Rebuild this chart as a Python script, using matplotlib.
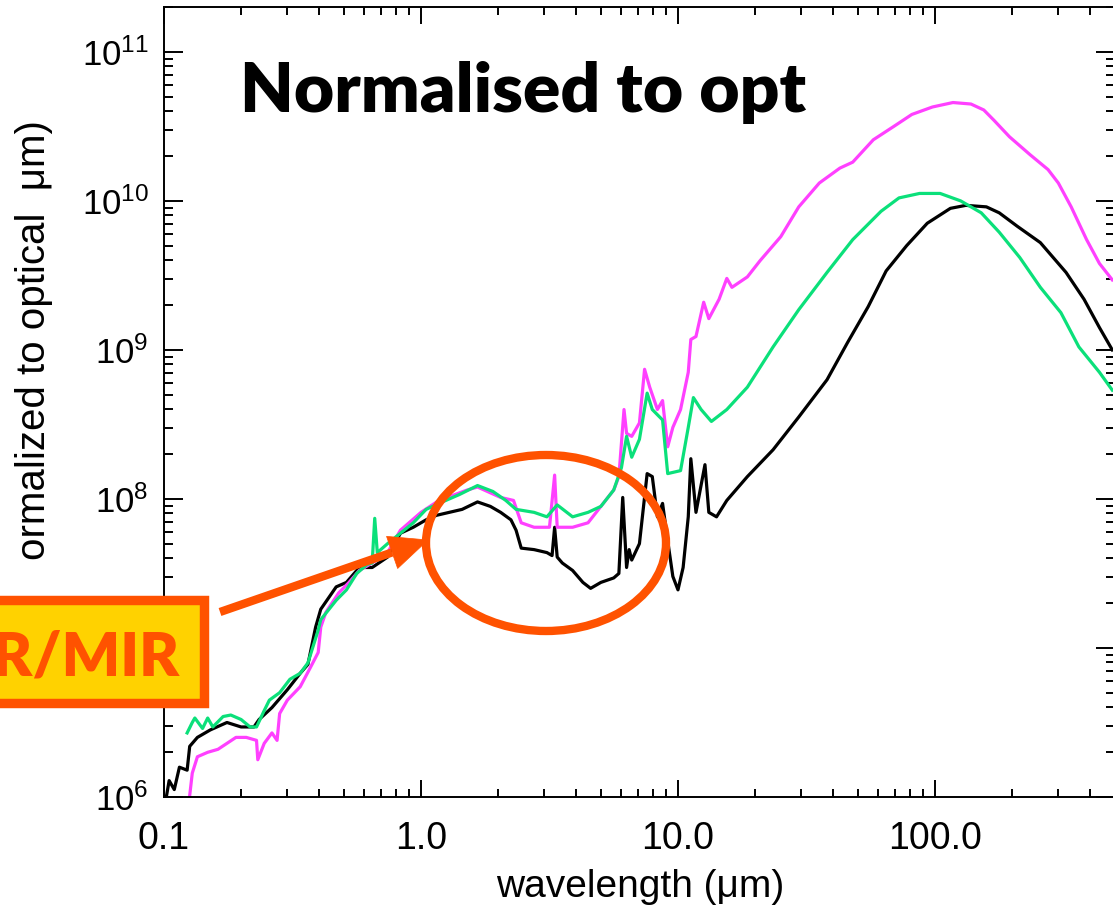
import numpy as np
import matplotlib
matplotlib.use("Agg")
import matplotlib.pyplot as plt
from matplotlib.patches import Ellipse, Rectangle, Polygon
from matplotlib.lines import Line2D
from matplotlib.ticker import (LogLocator, FixedLocator, FixedFormatter,
                               NullFormatter, LogFormatterMathtext)

plt.rcParams['font.family'] = ['Liberation Sans', 'DejaVu Sans']
plt.rcParams['mathtext.fontset'] = 'custom'
plt.rcParams['mathtext.rm'] = 'Liberation Sans'
plt.rcParams['mathtext.it'] = 'Liberation Sans:italic'
plt.rcParams['mathtext.bf'] = 'Liberation Sans:bold'

# ---- spectral energy distributions (log10 wavelength [um], log10 flux) ----
black_logwl = [-0.99, -0.98, -0.96, -0.94, -0.91, -0.90, -0.87, -0.82, -0.755, -0.70,
               -0.65, -0.63, -0.58, -0.52, -0.47, -0.44, -0.41, -0.39, -0.33, -0.29,
               -0.24, -0.19, -0.13, -0.08, -0.03, 0.02, 0.06, 0.11, 0.16, 0.22,
               0.27, 0.31, 0.35, 0.37, 0.39, 0.44, 0.49, 0.51, 0.52, 0.53,
               0.55, 0.59, 0.63, 0.66, 0.70, 0.75, 0.77, 0.785, 0.80, 0.81,
               0.82, 0.85, 0.88, 0.90, 0.92, 0.94, 0.96, 0.98, 1.00, 1.02,
               1.04, 1.05, 1.07, 1.105, 1.12, 1.15, 1.19, 1.27, 1.37, 1.47,
               1.58, 1.66, 1.74, 1.81, 1.89, 1.97, 2.06, 2.12, 2.20, 2.25,
               2.32, 2.41, 2.47, 2.51, 2.58, 2.64, 2.69]
black_logflux = [6.01, 6.11, 6.05, 6.20, 6.18, 6.34, 6.40, 6.45, 6.50, 6.47,
                 6.47, 6.52, 6.60, 6.72, 6.83, 6.89, 7.14, 7.26, 7.41, 7.44,
                 7.54, 7.54, 7.61, 7.77, 7.81, 7.86, 7.89, 7.91, 7.93, 7.98,
                 7.95, 7.91, 7.86, 7.79, 7.67, 7.66, 7.64, 7.62, 7.81, 7.61,
                 7.57, 7.52, 7.44, 7.40, 7.44, 7.47, 7.50, 8.01, 7.54, 7.66,
                 7.59, 7.70, 8.17, 8.15, 7.88, 7.97, 7.72, 7.48, 7.39, 7.54,
                 7.88, 8.27, 7.91, 8.23, 7.91, 7.88, 7.99, 8.15, 8.33, 8.55,
                 8.80, 9.05, 9.29, 9.53, 9.70, 9.85, 9.95, 9.97, 9.96, 9.92,
                 9.83, 9.72, 9.60, 9.52, 9.34, 9.15, 9.00]

magenta_logwl = [-0.90, -0.89, -0.87, -0.83, -0.79, -0.755, -0.72, -0.68, -0.64, -0.635,
                 -0.61, -0.58, -0.56, -0.55, -0.52, -0.47, -0.43, -0.40, -0.39, -0.37,
                 -0.32, -0.28, -0.24, -0.19, -0.13, -0.08, 0.00, 0.07, 0.18, 0.22,
                 0.31, 0.36, 0.39, 0.44, 0.50, 0.52, 0.53, 0.59, 0.65, 0.70,
                 0.75, 0.77, 0.79, 0.80, 0.82, 0.85, 0.87, 0.89, 0.92, 0.94,
                 0.96, 0.98, 1.01, 1.04, 1.05, 1.07, 1.10, 1.12, 1.16, 1.19,
                 1.21, 1.27, 1.32, 1.40, 1.47, 1.55, 1.63, 1.68, 1.76, 1.84,
                 1.91, 1.99, 2.07, 2.14, 2.19, 2.23, 2.29, 2.37, 2.44, 2.48,
                 2.53, 2.59, 2.64, 2.69]
magenta_logflux = [6.01, 6.16, 6.27, 6.30, 6.32, 6.36, 6.40, 6.40, 6.38, 6.25,
                   6.36, 6.43, 6.38, 6.56, 6.65, 6.74, 6.87, 6.97, 7.14, 7.24,
                   7.37, 7.44, 7.52, 7.57, 7.64, 7.79, 7.91, 7.99, 8.06, 8.08,
                   8.01, 7.99, 7.84, 7.81, 7.81, 8.16, 7.81, 7.81, 7.84, 7.95,
                   8.06, 8.15, 8.60, 8.44, 8.42, 8.51, 8.87, 8.75, 8.60, 8.66,
                   8.35, 8.48, 8.60, 8.85, 9.07, 9.09, 9.32, 9.21, 9.34, 9.48,
                   9.42, 9.49, 9.60, 9.76, 9.96, 10.12, 10.22, 10.26, 10.41, 10.50,
                   10.58, 10.63, 10.66, 10.65, 10.61, 10.54, 10.43, 10.31, 10.21, 10.12,
                   9.96, 9.74, 9.58, 9.47]

green_logwl = [-0.91, -0.89, -0.88, -0.85, -0.83, -0.81, -0.77, -0.74, -0.70, -0.665,
               -0.64, -0.61, -0.59, -0.55, -0.51, -0.47, -0.44, -0.42, -0.40, -0.39,
               -0.33, -0.29, -0.25, -0.21, -0.19, -0.18, -0.17, -0.13, -0.08, -0.03,
               0.02, 0.07, 0.15, 0.22, 0.28, 0.33, 0.37, 0.44, 0.49, 0.53,
               0.59, 0.65, 0.70, 0.75, 0.78, 0.80, 0.82, 0.85, 0.88, 0.90,
               0.94, 0.96, 1.01, 1.04, 1.06, 1.09, 1.13, 1.19, 1.27, 1.37,
               1.47, 1.58, 1.68, 1.79, 1.86, 1.94, 2.02, 2.10, 2.18, 2.25,
               2.33, 2.41, 2.49, 2.56, 2.64, 2.69]
green_logflux = [6.43, 6.50, 6.53, 6.46, 6.53, 6.47, 6.54, 6.55, 6.52, 6.47,
                 6.47, 6.58, 6.65, 6.70, 6.79, 6.83, 6.90, 7.01, 7.12, 7.19,
                 7.32, 7.39, 7.50, 7.56, 7.57, 7.87, 7.64, 7.70, 7.77, 7.84,
                 7.93, 7.97, 8.03, 8.09, 8.05, 7.99, 7.93, 7.91, 7.88, 7.96,
                 7.88, 7.91, 7.95, 8.06, 8.21, 8.42, 8.28, 8.40, 8.71, 8.60,
                 8.53, 8.17, 8.19, 8.48, 8.68, 8.60, 8.52, 8.60, 8.75, 9.02,
                 9.27, 9.52, 9.74, 9.93, 10.02, 10.05, 10.05, 10.00, 9.92, 9.79,
                 9.62, 9.42, 9.25, 9.02, 8.85, 8.73]

x_major_ticks = [0.1, 1.0, 10.0, 100.0]
x_tick_labels = ['0.1', '1.0', '10.0', '100.0']

title_text = 'Normalised to opt'
box_text = 'NIR/MIR'
x_label = 'wavelength (\u03bcm)'
y_label = 'ormalized to optical  \u03bcm)'

BLACK = '#000000'
MAGENTA = '#FF40FF'
GREEN = '#0BE07A'
ORANGE = '#FF5200'
YELLOW = '#FFD200'

W, H = 1113, 906
fig = plt.figure(figsize=(W / 100, H / 100), dpi=100)


def fxy(x, y):
    """pixel position (from top-left) -> figure fraction"""
    return (x / W, 1 - y / H)


ax = fig.add_axes([164 / W, 109 / H, 950.6 / W, 790 / H])
ax.set_xscale('log')
ax.set_yscale('log')

lw = 2.3
ax.plot(10 ** np.array(black_logwl), 10 ** np.array(black_logflux), color=BLACK, lw=lw)
ax.plot(10 ** np.array(magenta_logwl), 10 ** np.array(magenta_logflux), color=MAGENTA, lw=lw)
ax.plot(10 ** np.array(green_logwl), 10 ** np.array(green_logflux), color=GREEN, lw=lw)

ax.set_xlim(0.1, 500)
ax.set_ylim(1e6, 2.0e11)

ax.xaxis.set_major_locator(FixedLocator(x_major_ticks))
ax.xaxis.set_major_formatter(FixedFormatter(x_tick_labels))
ax.xaxis.set_minor_locator(LogLocator(base=10, subs=np.arange(2, 10), numticks=30))
ax.xaxis.set_minor_formatter(NullFormatter())
ax.yaxis.set_major_locator(LogLocator(base=10, numticks=30))
ax.yaxis.set_major_formatter(LogFormatterMathtext())
ax.yaxis.set_minor_locator(LogLocator(base=10, subs=np.arange(2, 10), numticks=30))
ax.yaxis.set_minor_formatter(NullFormatter())

ax.tick_params(which='both', direction='in', top=True, right=True, width=1.4, color='black')
ax.tick_params(axis='x', which='major', length=12.5, pad=17, labelsize=27)
ax.tick_params(axis='x', which='minor', length=6)
ax.tick_params(axis='y', which='major', length=13.5, pad=11, labelsize=25)
ax.tick_params(axis='y', which='minor', length=6.5)
for s in ax.spines.values():
    s.set_linewidth(1.4)

# axis titles
fig.text(*fxy(640, 897), x_label, ha='center', va='baseline', fontsize=28)
fig.text(*fxy(34, 120), y_label, ha='center', va='top', rotation=90, fontsize=29)

# headline
fig.text(*fxy(240, 112), title_text, ha='left', va='baseline', fontsize=50,
         fontweight='heavy', family=['Lato', 'DejaVu Sans'])

# highlight ellipse
ell = Ellipse(fxy(546, 543), 240 / W, 176 / H, transform=fig.transFigure,
              fill=False, edgecolor=ORANGE, lw=6, zorder=10)
fig.add_artist(ell)

# arrow pointing into the ellipse
tail = np.array([220.0, 612.0])
tip = np.array([428.0, 540.0])
u = (tip - tail) / np.hypot(*(tip - tail))
perp = np.array([-u[1], u[0]])
base = tip - 38 * u
c1 = base + 17 * perp
c2 = base - 17 * perp
fig.add_artist(Line2D([tail[0] / W, base[0] / W], [1 - tail[1] / H, 1 - base[1] / H],
                      transform=fig.transFigure, color=ORANGE, lw=6,
                      solid_capstyle='butt', zorder=10))
fig.add_artist(Polygon([fxy(*tip), fxy(*c1), fxy(*c2)], closed=True,
                       transform=fig.transFigure, facecolor=ORANGE,
                       edgecolor=ORANGE, lw=0.5, zorder=10))

# label box
x0, y0 = fxy(-300, 703)
x1, y1 = fxy(204.5, 600)
fig.add_artist(Rectangle((x0, y0), x1 - x0, y1 - y0, transform=fig.transFigure,
                         facecolor=YELLOW, edgecolor=ORANGE, lw=6.8, zorder=11))
fig.text(*fxy(180, 675), box_text, ha='right', va='baseline', fontsize=44,
         fontweight='heavy', color=ORANGE, family=['Lato', 'DejaVu Sans'], zorder=12)

fig.savefig('out.png', dpi=100)
